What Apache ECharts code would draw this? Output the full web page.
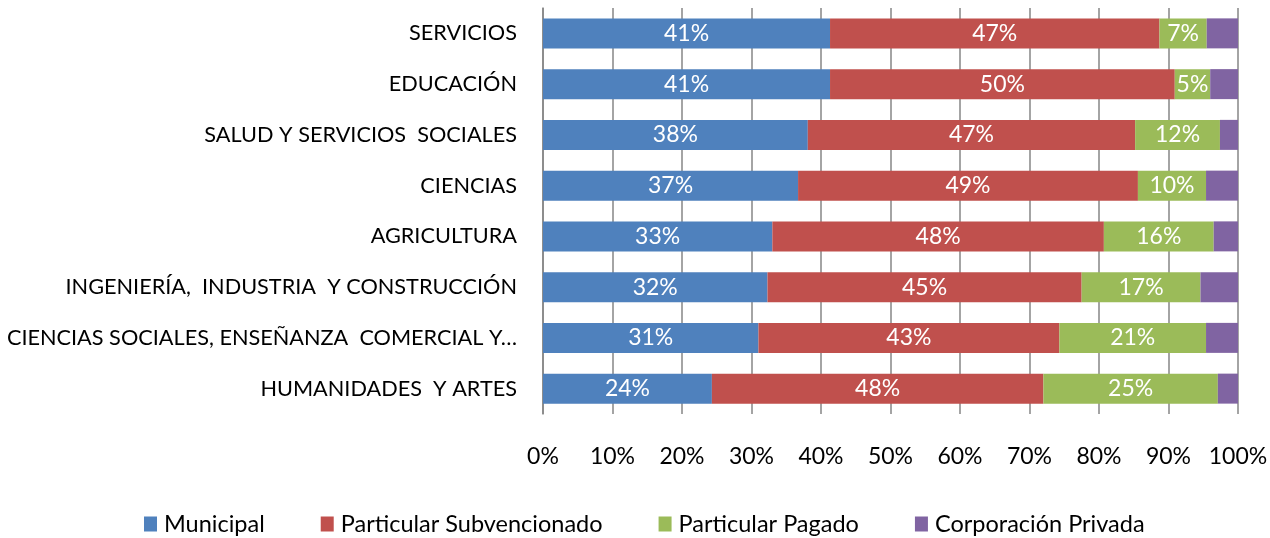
<!DOCTYPE html>
<html>
<head>
<meta charset="utf-8">
<script src="https://cdn.jsdelivr.net/npm/echarts@6/dist/echarts.min.js"></script>
<style>
html,body{margin:0;padding:0;background:#fff;}
#chart{width:1270px;height:538px;}
</style>
</head>
<body>
<div id="chart"></div>
<script>
var categories = [
  "SERVICIOS",
  "EDUCACIÓN",
  "SALUD Y SERVICIOS  SOCIALES",
  "CIENCIAS",
  "AGRICULTURA",
  "INGENIERÍA,  INDUSTRIA  Y CONSTRUCCIÓN",
  "CIENCIAS SOCIALES, ENSEÑANZA  COMERCIAL Y…",
  "HUMANIDADES  Y ARTES"
];
var seriesNames = ["Municipal", "Particular Subvencionado", "Particular Pagado", "Corporación Privada"];
var municipal     = [41.3, 41.3, 38.1, 36.7, 33.0, 32.3, 31.0, 24.3];
var subvencionado = [47.4, 49.6, 47.1, 48.9, 47.7, 45.2, 43.3, 47.7];
var pagado        = [6.8, 5.1, 12.2, 9.8, 15.8, 17.1, 21.1, 25.1];
var privada       = [4.5, 4.0, 2.6, 4.6, 3.5, 5.4, 4.6, 2.9];
var colors = ["#4F81BD", "#C0504D", "#9BBB59", "#8064A2"];
var xTicks = { min: 0, max: 100, interval: 10 };

var FONT = "Lato, 'Open Sans', sans-serif";
var values = [municipal, subvencionado, pagado, privada];

var chart = echarts.init(document.getElementById('chart'), null, {renderer: 'canvas'});
var series = values.map(function (arr, i) {
  return {
    name: seriesNames[i],
    type: 'bar',
    stack: 'total',
    barWidth: 30,
    data: arr,
    itemStyle: { color: colors[i] },
    label: {
      show: i < 3,
      position: 'inside',
      color: '#ffffff',
      fontFamily: FONT,
      fontSize: 23,
      formatter: function (p) { return Math.round(p.value) + '%'; }
    },
    emphasis: { disabled: true }
  };
});

chart.setOption({
  animation: false,
  backgroundColor: '#ffffff',
  textStyle: { fontFamily: FONT },
  grid: { left: 543, right: 32, top: 8, bottom: 124, containLabel: false, outerBoundsMode: 'none' },
  legend: {
    data: seriesNames,
    left: 139,
    top: 507,
    icon: 'rect',
    itemWidth: 13,
    itemHeight: 15,
    itemGap: 56,
    textStyle: { fontFamily: FONT, fontSize: 23.5, color: '#000', padding: [0, 0, 0, 2] }
  },
  xAxis: {
    type: 'value',
    min: xTicks.min,
    max: xTicks.max,
    interval: xTicks.interval,
    axisLine: { show: false },
    axisTick: { show: false },
    splitLine: { show: true, lineStyle: { color: '#868686', width: 1.5 } },
    axisLabel: {
      formatter: '{value}%',
      color: '#000',
      fontFamily: FONT,
      fontSize: 23,
      margin: 31
    }
  },
  yAxis: {
    type: 'category',
    inverse: true,
    data: categories,
    axisLine: { show: true, lineStyle: { color: '#868686', width: 1.5 } },
    axisTick: { show: false },
    axisLabel: {
      color: '#000',
      fontFamily: FONT,
      fontSize: 21.7,
      margin: 26
    }
  },
  series: series
});
</script>
</body>
</html>
